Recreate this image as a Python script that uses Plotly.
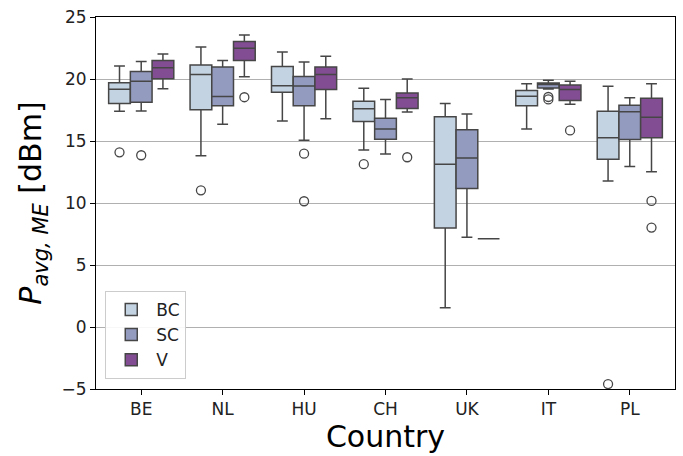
import plotly.graph_objects as go

countries = ["BE", "NL", "HU", "CH", "UK", "IT", "PL"]
series = ["BC", "SC", "V"]
colors = {"BC": "#c4d3e1", "SC": "#939bbf", "V": "#824d92"}

# precomputed box statistics per series (order follows countries)
BC_lower = [17.39, 13.82, 16.61, 14.27, 1.55, 15.97, 11.77]
BC_q1 = [18.03, 17.52, 18.93, 16.57, 7.99, 17.84, 13.53]
BC_med = [19.17, 20.37, 19.46, 17.60, 13.13, 18.61, 15.26]
BC_q3 = [19.70, 21.12, 21.00, 18.21, 16.96, 19.07, 17.39]
BC_upper = [21.04, 22.58, 22.18, 19.25, 18.03, 19.62, 19.41]
BC_out = [[14.09], [11.02], [], [13.13], [], [], [-4.6]]

SC_lower = [17.41, 16.35, 15.07, 13.95, 7.24, 19.20, 12.94]
SC_q1 = [18.13, 17.84, 17.84, 15.15, 11.16, 19.28, 15.13]
SC_med = [19.81, 18.59, 19.44, 15.97, 13.63, 19.55, 17.36]
SC_q3 = [20.60, 20.96, 20.21, 16.83, 15.90, 19.68, 17.89]
SC_upper = [21.41, 21.49, 21.38, 18.35, 17.17, 19.89, 18.48]
SC_out = [[13.85], [], [13.98, 10.14], [], [], [18.35, 18.55], []]

V_lower = [19.22, 20.18, 16.80, 17.33, 7.11, 17.97, 12.52]
V_q1 = [20.02, 21.49, 19.15, 17.63, 7.11, 18.27, 15.26]
V_med = [20.90, 22.47, 20.37, 18.48, 7.11, 19.15, 16.91]
V_q3 = [21.49, 23.03, 20.96, 18.88, 7.11, 19.52, 18.45]
V_upper = [22.02, 23.54, 21.84, 20.00, 7.11, 19.81, 19.62]
V_out = [[], [18.53], [], [13.69], [], [15.85], [10.17, 8.02]]

y_ticks = [-5, 0, 5, 10, 15, 20, 25]

stats = {
    "BC": (BC_lower, BC_q1, BC_med, BC_q3, BC_upper, BC_out),
    "SC": (SC_lower, SC_q1, SC_med, SC_q3, SC_upper, SC_out),
    "V": (V_lower, V_q1, V_med, V_q3, V_upper, V_out),
}

edge = "#464646"
font = "DejaVu Sans"

fig = go.Figure()
for s in series:
    lo, q1, med, q3, up, out = stats[s]
    # empty rows get a missing-value placeholder so plotly keeps the 2D layout
    pts = [list(o) if len(o) else [None] for o in out]
    fig.add_trace(go.Box(
        name=s,
        x=countries,
        q1=q1, median=med, q3=q3,
        lowerfence=lo, upperfence=up,
        y=pts,
        boxpoints="outliers",
        jitter=0, pointpos=0,
        fillcolor=colors[s],
        line=dict(color=edge, width=1.5),
        whiskerwidth=0.5,
        marker=dict(symbol="circle-open", size=9, color=edge,
                    line=dict(width=1.3, color=edge)),
    ))

axis_common = dict(
    showline=True, linecolor="black", linewidth=1.1, mirror=True,
    ticks="outside", ticklen=5, tickwidth=1.1, tickcolor="black",
    tickfont=dict(family=font, size=17, color="#222"),
    zeroline=False,
)

fig.update_layout(
    width=683, height=456,
    margin=dict(l=96, r=7, t=13, b=67),
    paper_bgcolor="white", plot_bgcolor="white",
    boxmode="group", boxgap=0.2, boxgroupgap=0.0,
    font=dict(family=font, color="black"),
    xaxis=dict(
        **axis_common,
        type="category",
        categoryorder="array", categoryarray=countries,
        showgrid=False,
        title=dict(text="Country", font=dict(family=font, size=30), standoff=2),
    ),
    yaxis=dict(
        **axis_common,
        range=[-5, 25],
        tickvals=y_ticks,
        ticktext=[str(v).replace("-", "\u2212") for v in y_ticks],
        showgrid=True, gridcolor="#b0b0b0", gridwidth=1,
        title=dict(text="<i>P</i><sub><i>avg, ME</i></sub> [dBm]",
                   font=dict(family=font, size=30), standoff=10),
    ),
    legend=dict(
        x=0.016, y=0.027, xanchor="left", yanchor="bottom",
        bgcolor="rgba(255,255,255,0.9)", bordercolor="#cccccc", borderwidth=1,
        font=dict(family=font, size=17, color="#222"),
        itemwidth=40,
    ),
    showlegend=True,
)

# remove the browser's default 8px body margin so the figure fills the window
fig.write_html(
    "out.html",
    config={"displayModeBar": False},
    post_script="document.body.style.margin='0';document.body.style.overflow='hidden';",
)
